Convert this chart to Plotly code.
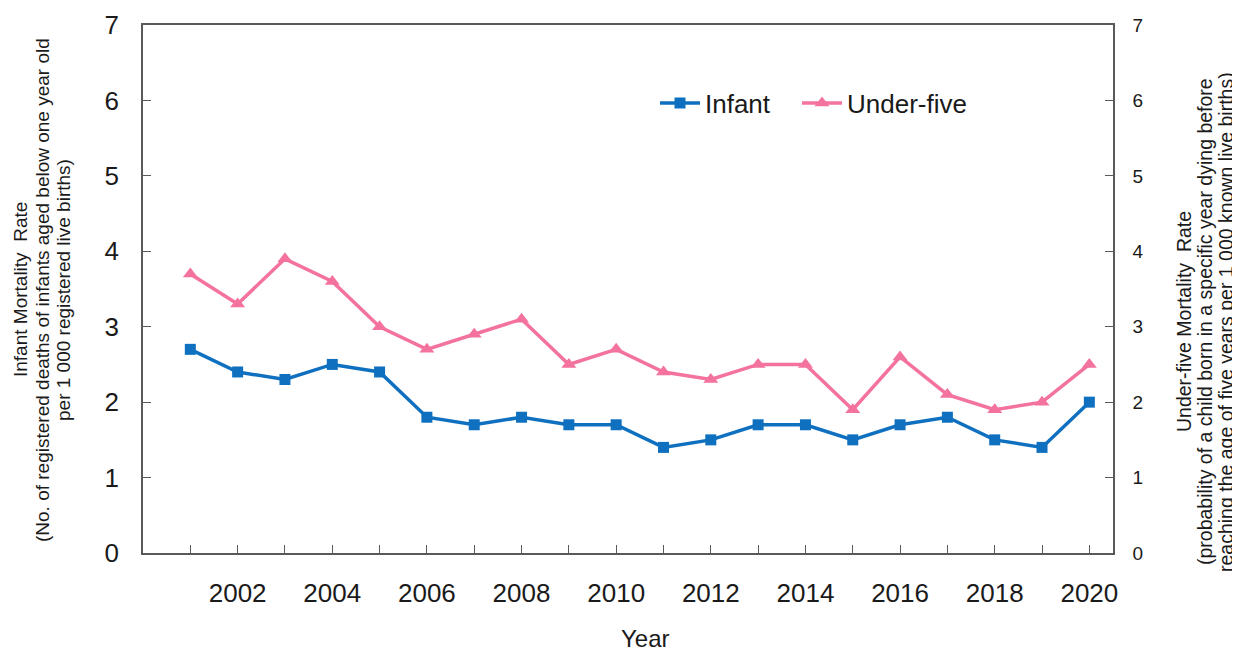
import plotly.graph_objects as go

years = list(range(2001, 2021))
infant = [2.7, 2.4, 2.3, 2.5, 2.4, 1.8, 1.7, 1.8, 1.7, 1.7, 1.4, 1.5, 1.7, 1.7, 1.5, 1.7, 1.8, 1.5, 1.4, 2.0]
under_five = [3.7, 3.3, 3.9, 3.6, 3.0, 2.7, 2.9, 3.1, 2.5, 2.7, 2.4, 2.3, 2.5, 2.5, 1.9, 2.6, 2.1, 1.9, 2.0, 2.5]
tick_text = [str(y) if y % 2 == 0 else "" for y in years]

left_title = ["Infant Mortality  Rate",
              "(No. of registered deaths of infants aged below one year old",
              "per 1 000 registered live births)"]
right_title = ["Under-five Mortality  Rate",
               "(probability of a child born in a specific year dying before",
               "reaching the age of five years per 1 000 known live births)"]

FONT = "Arial, Liberation Sans, sans-serif"
BLUE = "#1070C0"
PINK = "#F4729E"
AX = "#595959"
TXT = "#1a1a1a"

OFF = 8  # page body margin offset
W, H = 1240 - OFF, 651 - OFF
L, T = 143 - OFF, 25 - OFF
R = W - (1113 - OFF)
B = H - (553 - OFF)
PW, PH = W - L - R, H - T - B


def px_x(px):
    return (px - OFF - L) / PW


def px_y(py):
    return (H - B - (py - OFF)) / PH


fig = go.Figure()
fig.add_trace(go.Scatter(
    x=years, y=infant, name="Infant", mode="lines+markers", legend="legend",
    line=dict(color=BLUE, width=3.5),
    marker=dict(symbol="square", size=11, color=BLUE),
))
fig.add_trace(go.Scatter(
    x=years, y=under_five, name="Under-five", mode="lines+markers", yaxis="y2", legend="legend2",
    line=dict(color=PINK, width=3.5),
    marker=dict(symbol="triangle-up", size=13, color=PINK),
))

legend_common = dict(orientation="h", yanchor="middle", xanchor="left",
                     font=dict(size=26, color=TXT), bgcolor="rgba(0,0,0,0)",
                     itemwidth=40, tracegroupgap=0)

fig.update_layout(
    width=W, height=H,
    margin=dict(l=L, r=R, t=T, b=B, autoexpand=False),
    paper_bgcolor="white", plot_bgcolor="white",
    font=dict(family=FONT, color=TXT),
    showlegend=True,
    legend=dict(x=px_x(655), y=px_y(103), **legend_common),
    legend2=dict(x=px_x(797), y=px_y(103), **legend_common),
    xaxis=dict(
        range=[2000, 2020.5], tickvals=years, ticktext=tick_text,
        ticks="inside", ticklen=8, tickcolor=AX, tickwidth=1.2,
        showline=True, linecolor=AX, linewidth=1.5, mirror=True,
        showgrid=False, zeroline=False, automargin=False,
        tickfont=dict(size=26), ticklabelstandoff=16,
    ),
    yaxis=dict(
        range=[0, 7], dtick=1, ticks="inside", ticklen=8, tickcolor=AX, tickwidth=1.2,
        showline=True, linecolor=AX, linewidth=1.5,
        showgrid=False, zeroline=False, automargin=False,
        tickfont=dict(size=26), ticklabelstandoff=17,
    ),
    yaxis2=dict(
        range=[0, 7], dtick=1, overlaying="y", side="right",
        ticks="inside", ticklen=8, tickcolor=AX, tickwidth=1.2,
        showline=True, linecolor=AX, linewidth=1.5,
        showgrid=False, zeroline=False, automargin=False,
        tickfont=dict(size=19), ticklabelstandoff=14,
    ),
)

fig.add_annotation(
    xref="paper", yref="paper", x=px_x(645), y=px_y(638), xanchor="center", yanchor="middle",
    showarrow=False, text="Year", font=dict(size=24, family=FONT, color=TXT),
)

for text, xpx in zip(left_title, [20, 42, 63]):
    fig.add_annotation(
        xref="paper", yref="paper", x=px_x(xpx), y=px_y(290), xanchor="center", yanchor="middle",
        textangle=-90, showarrow=False, text=text,
        font=dict(size=19, family=FONT, color=TXT),
    )
for text, xpx in zip(right_title, [1184, 1205, 1226]):
    fig.add_annotation(
        xref="paper", yref="paper", x=px_x(xpx), y=px_y(322), xanchor="center", yanchor="middle",
        textangle=-90, showarrow=False, text=text,
        font=dict(size=19.5, family=FONT, color=TXT),
    )

fig.write_html("out.html")
